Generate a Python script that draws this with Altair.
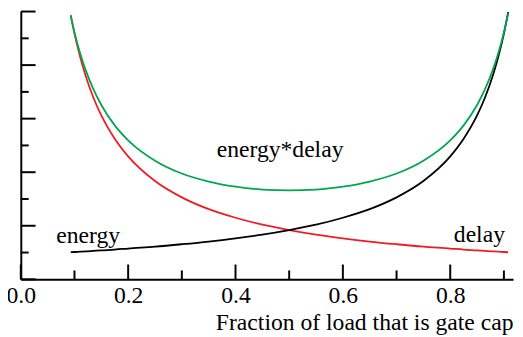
import altair as alt
import pandas as pd

# ---- data ----
frac = [0.093, 0.1, 0.11, 0.12, 0.135, 0.15, 0.175, 0.2, 0.25, 0.3, 0.35, 0.4, 0.45,
        0.5, 0.55, 0.6, 0.65, 0.7, 0.75, 0.8, 0.825, 0.85, 0.865, 0.88, 0.89, 0.9, 0.908]
energy = [9.87, 9.18, 8.35, 7.65, 6.80, 6.12, 5.25, 4.59, 3.67, 3.06, 2.62, 2.30, 2.04,
          1.84, 1.67, 1.53, 1.41, 1.31, 1.22, 1.15, 1.11, 1.08, 1.06, 1.04, 1.03, 1.02, 1.01]
delay = [1.01, 1.02, 1.03, 1.04, 1.06, 1.08, 1.11, 1.15, 1.22, 1.31, 1.41, 1.53, 1.67,
         1.84, 2.04, 2.30, 2.62, 3.06, 3.67, 4.59, 5.25, 6.12, 6.80, 7.65, 8.35, 9.18, 9.98]
energy_delay = [9.84, 9.22, 8.48, 7.86, 7.11, 6.51, 5.75, 5.19, 4.43, 3.95, 3.65, 3.46, 3.35,
                3.32, 3.35, 3.46, 3.65, 3.95, 4.43, 5.19, 5.75, 6.51, 7.11, 7.86, 8.48, 9.22, 9.94]
series_names = ["energy", "delay", "energy*delay"]
series_colors = ["#ee1c24", "#000000", "#00a650"]

x_major = [0.0, 0.2, 0.4, 0.6, 0.8]
x_minor = [0.1, 0.3, 0.5, 0.7, 0.9]
y_major = [0, 2, 4, 6, 8, 10]
y_minor = [1, 3, 5, 7, 9]
x_title = "Fraction of load that is gate cap"

# ---- layout ----
W, H = 500, 272
FONT = "Liberation Serif"
xs = alt.Scale(domain=[0, 0.917], nice=False, zero=False)
ys = alt.Scale(domain=[0, 10], nice=False, zero=False)

rows = []
for name, vals in zip(series_names, [energy, delay, energy_delay]):
    for f, v in zip(frac, vals):
        rows.append({"f": f, "v": v, "s": name})
df = pd.DataFrame(rows)

lines = alt.Chart(df).mark_line(strokeWidth=1.8, interpolate="monotone").encode(
    x=alt.X("f:Q", scale=xs, axis=alt.Axis(
        values=x_major, format=".1f", ticks=False, grid=False,
        domainColor="black", domainWidth=2, labelFlush=False,
        labelFont=FONT, labelFontSize=24, labelColor="black", labelPadding=5,
        title=x_title, titleFont=FONT, titleFontSize=24, titleFontWeight="normal",
        titleColor="black", titleAnchor="end", titlePadding=3)),
    y=alt.Y("v:Q", scale=ys, axis=alt.Axis(
        labels=False, ticks=False, grid=False, domainColor="black", domainWidth=2, title=None)),
    color=alt.Color("s:N", scale=alt.Scale(domain=series_names, range=series_colors), legend=None),
)


def xticks(vals, length):
    return alt.Chart(pd.DataFrame({"t": vals})).mark_rule(color="black", strokeWidth=2).encode(
        x=alt.X("t:Q", scale=xs),
        y=alt.value(H), y2=alt.value(H - length))


def yticks(vals, length):
    return alt.Chart(pd.DataFrame({"t": vals})).mark_rule(color="black", strokeWidth=2).encode(
        y=alt.Y("t:Q", scale=ys),
        x=alt.value(0), x2=alt.value(length))


def label(text, x, y, align):
    return alt.Chart(pd.DataFrame({"a": [0]})).mark_text(
        font=FONT, fontSize=24, color="black", align=align, baseline="alphabetic").encode(
        x=alt.X(datum=x, type="quantitative", scale=xs),
        y=alt.Y(datum=y, type="quantitative", scale=ys),
        text=alt.value(text))


chart = alt.layer(
    lines,
    xticks(x_major, 15), xticks(x_minor, 9),
    yticks(y_major, 15), yticks(y_minor, 8),
    label(series_names[0], 0.066, 1.34, "left"),
    label(series_names[2], 0.365, 4.57, "left"),
    label(series_names[1], 0.902, 1.41, "right"),
).properties(
    width=W, height=H,
    autosize=alt.AutoSizeParams(type="none"),
    padding={"left": 13, "top": 1, "right": 2, "bottom": 56},
    background="white",
).configure_view(stroke=None)

chart.save("out.html", embed_options={"renderer": "svg", "actions": False})
